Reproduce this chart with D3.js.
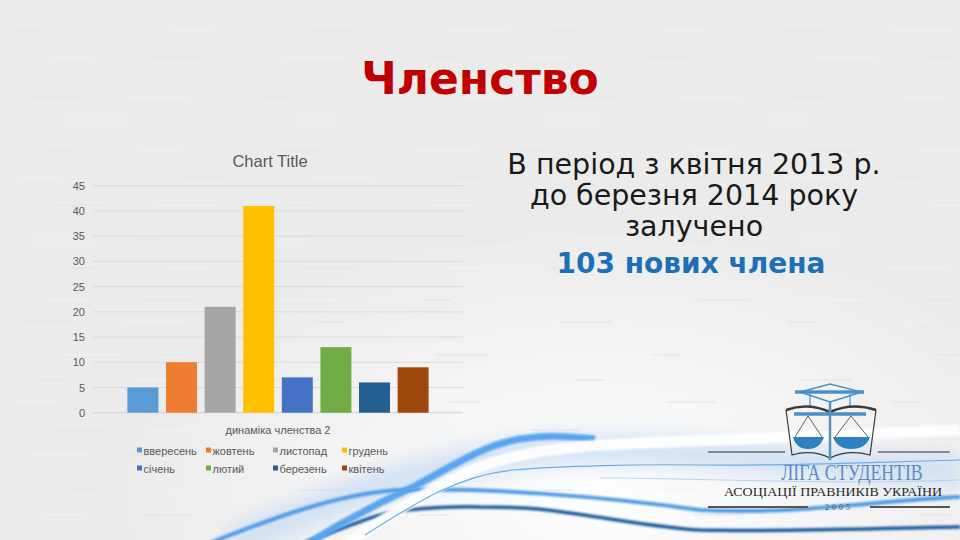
<!DOCTYPE html>
<html>
<head>
<meta charset="utf-8">
<script src="https://cdn.jsdelivr.net/npm/d3@7"></script>
<style>
  html,body{margin:0;padding:0;background:#ececec;}
  svg{display:block;}
</style>
</head>
<body>
<svg id="chart" width="960" height="540"></svg>
<script>
// ---- data ----
const seriesNames = ["ввересень","жовтень","листопад","грудень","січень","лютий","березень","квітень"];
const seriesValues = [5, 10, 21, 41, 7, 13, 6, 9];
const seriesColors = ["#5b9bd5","#ed7d31","#a5a5a5","#ffc000","#4472c4","#70ad47","#255e91","#9e480e"];
const yTicks = [0,5,10,15,20,25,30,35,40,45];
const categoryLabel = "динаміка членства 2";
const chartTitle = "Chart Title";
const slideTitle = "Членство";
const infoLines = ["В період з квітня 2013 р.","до березня 2014 року","залучено"];
const infoHighlight = "103 нових члена";

const svg = d3.select("#chart");
const defs = svg.append("defs");

// ---- background ----
const bgGrad = defs.append("radialGradient").attr("id","bgGlow")
  .attr("cx","0.62").attr("cy","0.92").attr("r","0.5");
bgGrad.append("stop").attr("offset","0").attr("stop-color","#ffffff").attr("stop-opacity",0.95);
bgGrad.append("stop").attr("offset","1").attr("stop-color","#ffffff").attr("stop-opacity",0);
svg.append("rect").attr("width",960).attr("height",540).attr("fill","#ebebeb");
svg.append("rect").attr("width",960).attr("height",540).attr("fill","url(#bgGlow)");

// subtle texture streaks
const streakY = [30,58,97,120,150,178,205,240,268,300,322,355,380,402,430,455,490,515];
const streakX = [15,120,260,410,520,640,760,880];
streakY.forEach((y,i)=>{
  streakX.forEach((x,j)=>{
    svg.append("line").attr("x1",x+((i*37+j*53)%60)).attr("x2",x+((i*37+j*53)%60)+30+((i+j)%4)*10)
      .attr("y1",y).attr("y2",y).attr("stroke",(i+j)%2?"#f3f3f3":"#e3e3e3").attr("stroke-width",1);
  });
});

// ---- swoosh decoration ----
const blur1 = defs.append("filter").attr("id","blur1").attr("x","-20%").attr("y","-50%").attr("width","140%").attr("height","200%");
blur1.append("feGaussianBlur").attr("stdDeviation",1);
const blur8 = defs.append("filter").attr("id","blur8").attr("x","-30%").attr("y","-80%").attr("width","160%").attr("height","260%");
blur8.append("feGaussianBlur").attr("stdDeviation",10);

const sw = svg.append("g");
sw.append("path").attr("d","M 230 545 C 330 500, 430 460, 560 450 C 700 445, 820 470, 960 470")
  .attr("fill","none").attr("stroke","#c9dcf3").attr("stroke-width",30).attr("filter","url(#blur8)").attr("opacity",0.8);
sw.append("path").attr("d","M 205 545 C 280 515, 340 494, 397 490 C 480 487, 600 496, 700 510 C 800 515, 880 500, 960 497")
  .attr("fill","none").attr("stroke","#4f9be6").attr("stroke-width",4).attr("filter","url(#blur1)");
sw.append("path").attr("d","M 300 545 C 350 525, 380 512, 407 510 C 440 507, 460 506, 480 507 C 510 507, 530 508, 547 510 C 610 518, 660 528, 700 530 C 800 532, 880 528, 960 527")
  .attr("fill","none").attr("stroke","#1f5a9e").attr("stroke-width",3.5).attr("filter","url(#blur1)");
sw.append("path").attr("d","M 300 548 C 345 520, 385 500, 413 487 C 450 468, 480 446, 520 439 C 545 435, 565 436, 595 439")
  .attr("fill","none").attr("stroke","#58a4ee").attr("stroke-width",7).attr("filter","url(#blur1)");
sw.append("path").attr("d","M 340 548 C 395 512, 440 482, 482 466 C 520 453, 560 447, 620 444 C 700 441, 830 436, 960 430")
  .attr("fill","none").attr("stroke","#ffffff").attr("stroke-width",11).attr("filter","url(#blur1)").attr("opacity",0.95);
sw.append("path").attr("d","M 365 535 C 420 500, 460 475, 513 470 C 560 466, 640 464, 700 465 C 800 466, 880 462, 960 460")
  .attr("fill","none").attr("stroke","#6aaee9").attr("stroke-width",1.2);
sw.append("path").attr("d","M 600 478 C 700 478, 820 485, 960 480")
  .attr("fill","none").attr("stroke","#a7cdf0").attr("stroke-width",1).attr("opacity",0.8);

// ---- slide title ----
svg.append("text").attr("x",480).attr("y",94).attr("text-anchor","middle")
  .attr("font-family","DejaVu Sans").attr("font-weight","bold").attr("font-size",44)
  .attr("fill","#c00000").text(slideTitle);

// ---- info text ----
const info = svg.append("g").attr("font-family","DejaVu Sans").attr("text-anchor","middle");
infoLines.forEach((t,i)=>{
  info.append("text").attr("x",694).attr("y",174+i*31).attr("font-size",28.5).attr("fill","#1a1a1a").text(t);
});
info.append("text").attr("x",691).attr("y",273).attr("font-size",28).attr("font-weight","bold")
  .attr("fill","#1f6fb6").text(infoHighlight);

// ---- chart ----
const plotL = 93, plotR = 463, plotT = 185.7, plotB = 412.7;
const y = d3.scaleLinear().domain([0,45]).range([plotB, plotT]);
const x = d3.scaleBand().domain(seriesNames).range([plotL, plotR]).paddingInner(0.197).paddingOuter(0.891);

const chartFont = "Liberation Sans";
svg.append("text").attr("x",270).attr("y",167).attr("text-anchor","middle")
  .attr("font-family",chartFont).attr("font-size",16.5).attr("fill","#595959").text(chartTitle);

svg.append("g").selectAll("line").data(yTicks).join("line")
  .attr("x1",plotL).attr("x2",plotR).attr("y1",d=>y(d)).attr("y2",d=>y(d))
  .attr("stroke",d=>d===0?"#d0d0d0":"#dadada").attr("stroke-width",1);

const yAxis = svg.append("g").attr("transform",`translate(${plotL-5},0)`)
  .call(d3.axisLeft(y).tickValues(yTicks).tickSize(0).tickPadding(3));
yAxis.select(".domain").remove();
yAxis.selectAll("text").attr("font-family",chartFont).attr("font-size",11).attr("fill","#595959");

svg.append("g").selectAll("rect").data(seriesValues).join("rect")
  .attr("x",(d,i)=>x(seriesNames[i])).attr("width",x.bandwidth())
  .attr("y",d=>y(d)).attr("height",d=>y(0)-y(d))
  .attr("fill",(d,i)=>seriesColors[i]);

svg.append("text").attr("x",(plotL+plotR)/2).attr("y",434).attr("text-anchor","middle")
  .attr("font-family",chartFont).attr("font-size",11).attr("fill","#595959").text(categoryLabel);

const legColX = [137, 206, 273, 342];
const legRowY = [451, 469];
const leg = svg.append("g");
seriesNames.forEach((n,i)=>{
  const cx = legColX[i%4], cy = legRowY[Math.floor(i/4)];
  leg.append("rect").attr("x",cx).attr("y",cy-3.5).attr("width",5).attr("height",5).attr("fill",seriesColors[i]);
  leg.append("text").attr("x",cx+6.5).attr("y",cy+3.5).attr("font-family",chartFont).attr("font-size",11)
    .attr("fill","#595959").text(n);
});

// ---- logo ----
const logo = svg.append("g");
const lb = "#4a90c8", dk = "#3a3a3a";
logo.append("path").attr("d","M 800 392 L 830 384 L 862 392 L 830 402 Z").attr("fill","none").attr("stroke",lb).attr("stroke-width",1.5);
logo.append("line").attr("x1",795).attr("x2",864).attr("y1",392).attr("y2",392).attr("stroke",lb).attr("stroke-width",3.5);
logo.append("line").attr("x1",810).attr("x2",810).attr("y1",394).attr("y2",408).attr("stroke",lb).attr("stroke-width",1.2);
logo.append("line").attr("x1",850).attr("x2",850).attr("y1",394).attr("y2",408).attr("stroke",lb).attr("stroke-width",1.2);
logo.append("path").attr("d","M 786 410 Q 808 402 830 412 Q 852 402 876 410").attr("fill","none").attr("stroke",dk).attr("stroke-width",2.5);
logo.append("path").attr("d","M 786 410 L 792 455 Q 812 449 830 458 Q 848 449 870 455 L 876 410").attr("fill","none").attr("stroke",dk).attr("stroke-width",1.2);
logo.append("line").attr("x1",794).attr("x2",866).attr("y1",414).attr("y2",414).attr("stroke",lb).attr("stroke-width",3.5);
logo.append("line").attr("x1",830).attr("x2",830).attr("y1",402).attr("y2",460).attr("stroke","#5a8fb8").attr("stroke-width",2.5);
logo.append("path").attr("d","M 795 437 L 808 416 L 822 437 M 835 437 L 851 416 L 868 437").attr("fill","none").attr("stroke",dk).attr("stroke-width",0.8);
logo.append("path").attr("d","M 793 437 L 824 437 Q 820 449 808 449 Q 796 449 793 437 Z").attr("fill","#2f82c2");
logo.append("path").attr("d","M 833 437 L 870 437 Q 866 449 851 449 Q 837 449 833 437 Z").attr("fill","#2f82c2");
logo.append("line").attr("x1",708).attr("x2",785).attr("y1",452).attr("y2",452).attr("stroke","#6a6a6a").attr("stroke-width",1.5);
logo.append("line").attr("x1",878).attr("x2",950).attr("y1",452).attr("y2",452).attr("stroke","#6a6a6a").attr("stroke-width",1.5);
logo.append("g").attr("transform","translate(852,480) scale(0.74,1)")
  .append("text").attr("x",0).attr("y",0).attr("text-anchor","middle").attr("font-family","Liberation Serif")
  .attr("font-size",24).attr("fill","#5e8cc0").text("ЛІГА СТУДЕНТІВ");
logo.append("g").attr("transform","translate(833,495.5) scale(1.16,1)")
  .append("text").attr("x",0).attr("y",0).attr("text-anchor","middle").attr("font-family","Liberation Serif")
  .attr("font-size",12).attr("fill","#2a2a2a").text("АСОЦІАЦІЇ ПРАВНИКІВ УКРАЇНИ");
logo.append("line").attr("x1",708).attr("x2",808).attr("y1",507).attr("y2",507).attr("stroke","#555").attr("stroke-width",1.8);
logo.append("line").attr("x1",870).attr("x2",950).attr("y1",507).attr("y2",507).attr("stroke","#555").attr("stroke-width",1.8);
logo.append("text").attr("x",839).attr("y",510).attr("text-anchor","middle").attr("font-family","Liberation Serif")
  .attr("font-size",8).attr("letter-spacing",3).attr("fill","#555").text("2005");
</script>
</body>
</html>
